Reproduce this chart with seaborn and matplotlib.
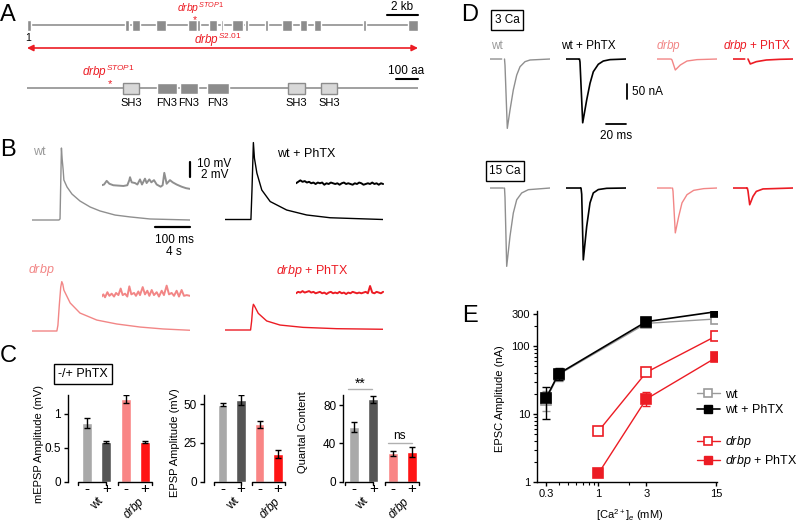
import numpy as np
import pandas as pd
import matplotlib
matplotlib.use("Agg")
import matplotlib.pyplot as plt
from matplotlib.lines import Line2D
from matplotlib.ticker import FixedLocator, NullFormatter, LogLocator
import seaborn as sns

W, H = 800, 528

# colours
GREY = "#8f8f8f"
PINK = "#f28686"
RED = "#ec1c24"
GENE_GREY = "#8c8c8c"

# ---- panel A: gene / protein structure
exons_kb = [(0.0, 0.25), (6.32, 6.61), (6.77, 7.26), (8.32, 8.97), (10.39, 10.97),
            (11.0, 11.16), (11.74, 12.26), (12.52, 12.65), (13.23, 13.94), (14.06, 14.26),
            (15.35, 15.55), (16.45, 17.10), (17.61, 18.06), (18.52, 18.97), (21.68, 21.87),
            (24.58, 25.23)]
gene_len_kb = 25.23
stop1_kb = 10.8
protein_len_aa = 1777
sh3_aa = [(436, 509), (1186, 1264), (1336, 1409)]
fn3_aa = [(591, 682), (695, 777), (818, 918)]
stop1_aa = 377

# ---- panel B: EPSP traces (ms, mV)
wt_epsp_ms = [0, 77, 80, 84, 86, 89, 91, 100, 114, 137, 166, 194, 237, 280, 337, 451]
wt_epsp_mv = [0, 0, 0.7, 49.3, 42, 34.2, 27.4, 22.6, 17.8, 13.0, 8.9, 6.2, 3.4, 2.1, 0.7, 0]
drbp_epsp_ms = [0, 71, 74, 78, 82, 85, 88, 91, 109, 137, 185, 242, 309, 374, 451]
drbp_epsp_mv = [0, 0, 4, 18, 30, 33.8, 32, 28, 19.2, 12.3, 7.5, 4.8, 2.7, 1.4, 0.5]
wtph_epsp_ms = [0, 74, 77, 81, 84, 91, 105, 129, 176, 233, 300, 451]
wtph_epsp_mv = [0, 0, 20, 52.7, 42, 31.8, 20.2, 12.3, 6.5, 3.1, 1.2, 0]
drph_epsp_ms = [0, 73, 76, 79, 81, 84, 95, 119, 157, 223, 319, 451]
drph_epsp_mv = [0, 0, 6, 15, 17.6, 16.5, 11.4, 6.2, 3.4, 1.8, 0.9, 0.5]

# ---- panel B: miniature traces (s, mV)
wt_mini_s = [0, 0.27, 0.57, 0.88, 1.33, 1.9, 2.48, 2.93, 3.16, 3.24, 3.43, 3.81, 4.08, 4.38,
             4.61, 4.95, 5.14, 5.45, 5.68, 5.98, 6.29, 6.74, 6.97, 7.16, 7.43, 7.81, 8.12,
             8.57, 9.14, 9.64, 10.1]
wt_mini_mv = [0.2, 0.3, 0.8, 0.4, 0.2, 0.15, 0.1, 0.2, 0.9, 1.3, 0.6, 0.5, 0.3, 1.0, 0.3,
              1.1, 0.5, 1.0, 0.6, 0.9, 0.3, 0.0, 0.2, 1.9, 0.4, 0.9, 0.6, 0.3, 0.0, -0.2, -0.3]
drbp_mini_s = [0, 0.19, 0.38, 0.65, 0.88, 1.14, 1.41, 1.64, 1.91, 2.17, 2.4, 2.67, 2.93, 3.16,
               3.39, 3.7, 3.92, 4.19, 4.38, 4.69, 4.95, 5.22, 5.45, 5.72, 5.98, 6.29, 6.55,
               6.86, 7.12, 7.43, 7.7, 8.0, 8.27, 8.57, 8.84, 9.14, 9.41, 9.72, 10.1]
drbp_mini_mv = [0.1, 0.4, 0.0, 0.7, 0.2, 0.5, 0.1, 0.6, 0.3, 1.2, 0.3, 0.5, 0.1, 1.5, 0.4,
                0.6, 0.2, 0.8, 0.3, 1.4, 0.4, 0.9, 0.2, 1.0, 0.3, 0.7, 0.1, 0.9, 0.3, 1.6,
                0.4, 0.6, 0.2, 0.9, 0.1, 1.0, 0.2, 0.3, 0.2]
phtx_mini_s = [0, 0.25, 0.5, 0.75, 1.0, 1.25, 1.5, 1.75, 2.0, 2.25, 2.5, 2.75, 3.0, 3.25,
               3.5, 3.75, 4.0, 4.25, 4.5, 4.75, 5.0, 5.25, 5.5, 5.75, 6.0, 6.25, 6.5, 6.75,
               7.0, 7.25, 7.5, 7.75, 8.0, 8.25, 8.5, 8.75, 9.0, 9.25, 9.5, 9.75, 10.0]
wtph_mini_mv = [0.1, 0.3, 0.5, 0.3, 0.4, 0.2, 0.3, 0.1, 0.2, 0.0, 0.2, 0.1, 0.2, -0.1,
                0.1, 0.0, 0.2, 0.1, 0.0, 0.1, -0.1, 0.1, 0.2, 0.0, 0.1, 0.0, -0.1, 0.1,
                0.0, 0.2, 0.1, -0.1, 0.0, 0.1, 0.0, 0.2, 0.0, 0.1, -0.1, 0.1, 0.0]
drph_mini_mv = [0.0, 0.2, 0.1, 0.3, 0.1, 0.2, 0.3, 0.1, 0.2, 0.0, 0.1, 0.2, 0.0, 0.1,
                -0.1, 0.1, 0.2, 0.0, 0.1, 0.0, 0.2, 0.0, 0.1, -0.1, 0.1, 0.0, 0.2, 0.1,
                0.0, 0.1, 0.0, 0.1, 0.2, 0.0, 1.0, 0.1, 0.0, 0.2, 0.1, 0.0, 0.2]

# ---- panel C: bar data
conds = ["wt -", "wt +", "drbp -", "drbp +"]
bar_colors = ["#a9a9a9", "#555555", "#f98585", "#ff1414"]
mepsp_mv = [0.87, 0.58, 1.22, 0.585]
mepsp_sem = [0.07, 0.015, 0.055, 0.02]
epsp_mv = [49.8, 52.8, 37.1, 17.7]
epsp_sem = [1.0, 3.2, 2.2, 2.7]
quantal = [56.8, 86.0, 29.6, 30.7]
quantal_sem = [5.2, 3.6, 2.8, 5.2]

# ---- panel D: EPSC traces (ms, nA)
d3_wt_ms = [0, 11.7, 11.7, 14.5, 15, 17.3, 20, 23.3, 26.7, 30, 35, 40, 60]
d3_wt_na = [0, 0, np.nan, 0, -20, -224, -165, -100, -52, -25, -8.6, -3.2, 0]
d3_wtph_ms = [0, 12.3, 12.3, 13.5, 14, 16.7, 20.7, 24, 27.3, 32.3, 37.3, 44, 60]
d3_wtph_na = [0, 0, np.nan, 0, -10, -206, -132, -79, -41, -17, -6.5, -2, 0]
d3_drbp_ms = [0, 13, 13, 14, 15, 18.3, 23.3, 30, 40, 60]
d3_drbp_na = [0, 0, np.nan, 0, -3, -35.5, -19.4, -6.5, -2, 0]
d3_drph_ms = [0, 11.7, 11.7, 15, 17.3, 23.3, 33.3, 46.7, 60]
d3_drph_na = [0, 0, np.nan, 0, -16, -8.6, -3.2, -1, 0]
d15_wt_ms = [0, 13.3, 13.3, 14.5, 15, 16.7, 20, 23.3, 26.7, 31.7, 38.3, 60]
d15_wt_na = [0, 0, np.nan, 0, -30, -253, -156, -81, -38, -16, -5.4, 0]
d15_wtph_ms = [0, 14, 14, 15, 15.7, 17.3, 20.7, 24, 27.3, 32.3, 40.7, 60]
d15_wtph_na = [0, 0, np.nan, 0, -20, -232, -124, -48, -16, -5, -1, 0]
d15_drbp_ms = [0, 14.3, 14.3, 15.5, 16, 18.3, 21.7, 25, 30, 36.7, 46.7, 60]
d15_drbp_na = [0, 0, np.nan, 0, -10, -145, -92, -48, -21.5, -7.5, -2, 0]
d15_drph_ms = [0, 13.3, 13.3, 14.3, 15, 16.7, 20, 23.3, 30, 60]
d15_drph_na = [0, 0, np.nan, 0, -10, -54, -27, -11, -3, 0]

# ---- panel E: Ca dependence
ca_wt = [0.3, 0.4, 3, 15]
epsc_wt = [16, 38, 215, 250]
epsc_wt_lo = [11, 31, 205, 240]
epsc_wt_hi = [22, 46, 225, 262]
ca_wtph = [0.3, 0.4, 3, 15]
epsc_wtph = [17, 39, 228, 320]
epsc_wtph_lo = [8.5, 31.5, 215, 305]
epsc_wtph_hi = [25, 47, 240, 335]
ca_drbp = [1, 3, 15]
epsc_drbp = [5.6, 41, 141]
epsc_drbp_lo = [5.3, 37, 135]
epsc_drbp_hi = [5.9, 46, 147]
ca_drph = [1, 3, 15]
epsc_drph = [1.34, 16.6, 68]
epsc_drph_lo = [1.28, 13, 65]
epsc_drph_hi = [1.4, 21, 71]

sns.set_theme(style="ticks")
plt.rcParams.update({
    "font.family": ["Liberation Sans", "DejaVu Sans"],
    "mathtext.fontset": "custom",
    "mathtext.rm": "Liberation Sans",
    "mathtext.it": "Liberation Sans:italic",
    "mathtext.bf": "Liberation Sans:bold",
    "text.color": "black",
    "axes.labelcolor": "black",
    "axes.edgecolor": "black",
    "xtick.color": "black",
    "ytick.color": "black",
    "axes.linewidth": 1.0,
    "xtick.major.width": 1.0,
    "ytick.major.width": 1.0,
    "xtick.major.size": 3,
    "ytick.major.size": 3,
    "xtick.labelsize": 8,
    "ytick.labelsize": 8,
    "xtick.major.pad": 2,
    "ytick.major.pad": 2,
})

fig = plt.figure(figsize=(W / 100, H / 100), dpi=100)


def px_axes(x0, y0, x1, y1):
    ax = fig.add_axes([x0 / W, 1 - y1 / H, (x1 - x0) / W, (y1 - y0) / H])
    ax.patch.set_alpha(0)
    return ax


def draw_trace(ax, t, v, color, lw, xlim, ylim):
    ax.plot(t, v, color=color, lw=lw, solid_joinstyle="round")
    ax.set_xlim(*xlim)
    ax.set_ylim(*ylim)
    ax.axis("off")


# ================= A =================
axg = px_axes(27, 15, 418, 35)
axg.set_xlim(0, gene_len_kb)
axg.set_ylim(1, -1)
axg.axis("off")
axg.plot([0, gene_len_kb], [0, 0], color="#a0a0a0", lw=1.4, zorder=1)
axg.barh([0] * len(exons_kb), [e - s for s, e in exons_kb], left=[s for s, e in exons_kb],
         height=1.1, color=GENE_GREY, zorder=2)
axg.plot([gene_len_kb - 2, gene_len_kb], [-1, -1], color="black", lw=1.5, clip_on=False)
axg.text(gene_len_kb - 1, -1.8, "2 kb", ha="center", va="center", fontsize=8.5)
axg.text(stop1_kb, -0.45, "*", color=RED, ha="center", va="center", fontsize=7.5, zorder=3)
axg.text(stop1_kb + 0.4, -0.95, r"$drbp^{STOP1}$", color=RED, ha="center", va="bottom", fontsize=7.5)
axg.text(0.05, 1.3, "1", ha="center", va="center", fontsize=7.5)
axg.annotate("", xy=(gene_len_kb, 2.3), xytext=(0, 2.3), annotation_clip=False,
             arrowprops=dict(arrowstyle="<|-|>", color=RED, lw=1.2, mutation_scale=9,
                             shrinkA=0, shrinkB=0))
axg.text(12.3, 1.5, r"$drbp^{S2.01}$", color=RED, ha="center", va="center", fontsize=8.5)

axp = px_axes(27, 78, 418, 98)
axp.set_xlim(0, protein_len_aa)
axp.set_ylim(1, -1)
axp.axis("off")
axp.plot([0, protein_len_aa], [0, 0], color="#a0a0a0", lw=1.4, zorder=1)
axp.barh([0] * 3, [e - s for s, e in sh3_aa], left=[s for s, e in sh3_aa], height=1.1,
         color="#d8d8d8", edgecolor=GENE_GREY, lw=1, zorder=2)
axp.barh([0] * 3, [e - s for s, e in fn3_aa], left=[s for s, e in fn3_aa], height=1.1,
         color=GENE_GREY, zorder=2)
for s, e in sh3_aa:
    axp.text((s + e) / 2, 1.5, "SH3", ha="center", va="center", fontsize=8)
for s, e in fn3_aa:
    axp.text((s + e) / 2, 1.5, "FN3", ha="center", va="center", fontsize=8)
axp.plot([protein_len_aa - 100, protein_len_aa], [-0.9, -0.9], color="black", lw=1.5, clip_on=False)
axp.text(protein_len_aa - 55, -1.7, "100 aa", ha="center", va="center", fontsize=8.5)
axp.text(stop1_aa, -0.35, "*", color=RED, ha="center", va="center", fontsize=8)
axp.text(stop1_aa - 5, -1.65, r"$drbp^{STOP1}$", color=RED, ha="center", va="center", fontsize=8.5)

# ================= B =================
EPSP_X = (0, 451)
EPSP_Y = (-2.74, 54.8)
MINI_X = (0, 10.1)
MINI_Y = (-1.37, 2.74)

ax = px_axes(32, 140, 190, 224)
draw_trace(ax, wt_epsp_ms, wt_epsp_mv, GREY, 1.0, EPSP_X, EPSP_Y)
ax.plot([451, 451], [29.5, 39.5], color="black", lw=1.6, clip_on=False)
ax.plot([351, 451], [-4.8, -4.8], color="black", lw=1.6, clip_on=False)
ax = px_axes(225, 139.5, 383, 223.5)
draw_trace(ax, wtph_epsp_ms, wtph_epsp_mv, "black", 1.0, EPSP_X, EPSP_Y)
ax = px_axes(32, 251, 190, 335)
draw_trace(ax, drbp_epsp_ms, drbp_epsp_mv, PINK, 1.0, EPSP_X, EPSP_Y)
ax = px_axes(225, 250, 383, 334)
draw_trace(ax, drph_epsp_ms, drph_epsp_mv, RED, 1.0, EPSP_X, EPSP_Y)

ax = px_axes(101.7, 166.7, 190, 196.7)
draw_trace(ax, wt_mini_s, wt_mini_mv, GREY, 1.4, MINI_X, MINI_Y)
ax = px_axes(101.7, 277.3, 190, 307.3)
draw_trace(ax, drbp_mini_s, drbp_mini_mv, PINK, 1.4, MINI_X, MINI_Y)
ax = px_axes(296, 164, 384, 194)
draw_trace(ax, phtx_mini_s, wtph_mini_mv, "black", 1.4, MINI_X, MINI_Y)
ax = px_axes(296, 273.3, 384, 303.3)
draw_trace(ax, phtx_mini_s, drph_mini_mv, RED, 1.4, MINI_X, MINI_Y)

# ================= C =================
palette = dict(zip(conds, bar_colors))


def bar_panel(box, xlim, vals, sems, ylim, yticks, yticklabels, ylabel, label_xy):
    ax = px_axes(*box)
    df = pd.DataFrame({"cond": conds, "val": vals})
    sns.barplot(data=df, x="cond", y="val", hue="cond", palette=palette, width=0.52,
                legend=False, errorbar=None, saturation=1, ax=ax)
    ax.errorbar(range(4), vals, yerr=sems, fmt="none", ecolor="black", elinewidth=1,
                capsize=2.5, capthick=1)
    ax.set_xlim(*xlim)
    ax.set_ylim(*ylim)
    ax.set_yticks(yticks)
    ax.set_yticklabels(yticklabels, fontsize=8.5)
    ax.set_xticks(range(4))
    ax.set_xticklabels(["-", "+", "-", "+"], fontsize=11)
    ax.tick_params(axis="x", length=0, pad=0)
    ax.set_xlabel("")
    ax.set_ylabel(ylabel, fontsize=8)
    ax.yaxis.set_label_coords(*label_xy)
    sns.despine(ax=ax, bottom=True)
    tick = ylim[1] * 3 / (box[3] - box[1])
    for a, b in [(-0.45, 1.0), (1.6, 3.35)]:
        ax.plot([a, a, b, b], [-tick, 0, 0, -tick], color="black", lw=1, clip_on=False)
    return ax


bar_panel((68, 395, 152, 481.7), (-0.98, 3.37), mepsp_mv, mepsp_sem, (0, 1.28),
          [0, 0.5, 1], ["0", "0.5", "1"], "mEPSP Amplitude (mV)", (-0.28, 0.435))
bar_panel((204, 395, 285, 481.7), (-1.01, 3.37), epsp_mv, epsp_sem, (0, 56),
          [0, 25, 50], ["0", "25", "50"], "EPSP Amplitude (mV)", (-0.30, 0.446))
axq = bar_panel((343.3, 395, 418.3, 481.7), (-0.55, 3.32), quantal, quantal_sem, (0, 90.5),
                [0, 40, 80], ["0", "40", "80"], "Quantal Content", (-0.47, 0.573))
axq.plot([-0.3, 0.95], [96.4, 96.4], color="#b0b0b0", lw=1, clip_on=False)
axq.text(0.3, 102, "**", ha="center", va="center", fontsize=10)
axq.plot([1.75, 3.0], [40.7, 40.7], color="#b0b0b0", lw=1, clip_on=False)
axq.text(2.35, 48, "ns", ha="center", va="center", fontsize=8.5)

# ================= D =================
D_X = (0, 60)
D_Y = (-261.6, 29.1)
ax = px_axes(490, 50, 550, 140)
draw_trace(ax, d3_wt_ms, d3_wt_na, GREY, 1.0, D_X, D_Y)
ax = px_axes(566, 50, 626, 140)
draw_trace(ax, d3_wtph_ms, d3_wtph_na, "black", 1.2, D_X, D_Y)
ax.plot([61, 61], [-80, -130], color="black", lw=1.3, clip_on=False)
ax.plot([40, 60], [-210, -210], color="black", lw=1.3, clip_on=False)
ax = px_axes(657, 50, 717, 140)
draw_trace(ax, d3_drbp_ms, d3_drbp_na, PINK, 1.0, D_X, D_Y)
ax = px_axes(733, 50, 793, 140)
draw_trace(ax, d3_drph_ms, d3_drph_na, RED, 1.2, D_X, D_Y)
ax = px_axes(490, 179, 550, 269)
draw_trace(ax, d15_wt_ms, d15_wt_na, GREY, 1.0, D_X, D_Y)
ax = px_axes(566, 179, 626, 269)
draw_trace(ax, d15_wtph_ms, d15_wtph_na, "black", 1.2, D_X, D_Y)
ax = px_axes(657, 179, 717, 269)
draw_trace(ax, d15_drbp_ms, d15_drbp_na, PINK, 1.0, D_X, D_Y)
ax = px_axes(733, 179, 793, 269)
draw_trace(ax, d15_drph_ms, d15_drph_na, RED, 1.2, D_X, D_Y)

# ================= E =================
axE = px_axes(537, 311, 717, 482)
axE.set_xscale("log")
axE.set_yscale("log")
series = [
    (ca_wt, epsc_wt, epsc_wt_lo, epsc_wt_hi, "#9a9a9a", "white", 1.0),
    (ca_wtph, epsc_wtph, epsc_wtph_lo, epsc_wtph_hi, "black", "black", 1.2),
    (ca_drbp, epsc_drbp, epsc_drbp_lo, epsc_drbp_hi, RED, "white", 1.0),
    (ca_drph, epsc_drph, epsc_drph_lo, epsc_drph_hi, RED, RED, 1.0),
]
for x, y, lo, hi, c, fc, lw in series:
    yerr = [np.array(y) - np.array(lo), np.array(hi) - np.array(y)]
    axE.errorbar(x, y, yerr=yerr, fmt="none", ecolor=c, elinewidth=1, capsize=3, capthick=1)
    sns.lineplot(x=x, y=y, ax=axE, color=c, lw=lw, marker="s", markersize=6.5,
                 markerfacecolor=fc, markeredgecolor=c, markeredgewidth=1.2)
axE.set_xlim(0.244, 15.2)
axE.set_ylim(1, 327)
axE.set_xticks([0.3, 1, 3, 15])
axE.set_xticklabels(["0.3", "1", "3", "15"])
axE.xaxis.set_minor_locator(FixedLocator([0.4, 0.5, 0.6, 0.7, 0.8, 0.9, 2]))
axE.xaxis.set_minor_formatter(NullFormatter())
axE.set_yticks([1, 10, 100, 300])
axE.set_yticklabels(["1", "10", "100", "300"])
axE.yaxis.set_minor_locator(LogLocator(base=10, subs=[2, 3, 4, 5, 6, 7, 8, 9]))
axE.yaxis.set_minor_formatter(NullFormatter())
axE.tick_params(which="minor", length=2, width=0.8)
sns.despine(ax=axE)
axE.set_ylabel("EPSC Amplitude (nA)", fontsize=8)
axE.yaxis.set_label_coords(-0.18, 0.49)
axE.set_xlabel(r"[Ca$^{2+}$]$_e$ (mM)", fontsize=8)
axE.xaxis.set_label_coords(0.517, -0.15)

h_wt = Line2D([], [], color="#9a9a9a", lw=1, marker="s", ms=6, mfc="white", mec="#9a9a9a", mew=1.2)
h_wtph = Line2D([], [], color="black", lw=1.2, marker="s", ms=6, mfc="black", mec="black")
h_dr = Line2D([], [], color=RED, lw=1, marker="s", ms=6, mfc="white", mec=RED, mew=1.2)
h_drph = Line2D([], [], color=RED, lw=1, marker="s", ms=6, mfc=RED, mec=RED)
leg_kw = dict(loc="upper left", frameon=False, fontsize=9, handlelength=1.8,
              handletextpad=0.4, labelspacing=0.25, borderaxespad=0, borderpad=0)
leg1 = axE.legend([h_wt, h_wtph], ["wt", "wt + PhTX"], bbox_to_anchor=(0.889, 0.545), **leg_kw)
axE.add_artist(leg1)
axE.legend([h_dr, h_drph], [r"$drbp$", r"$drbp$ + PhTX"], bbox_to_anchor=(0.889, 0.28), **leg_kw)

# ================= overlay text =================
ov = fig.add_axes([0, 0, 1, 1])
ov.set_xlim(0, W)
ov.set_ylim(H, 0)
ov.axis("off")
ov.set_zorder(10)
ov.patch.set_alpha(0)

for letter, x, y in [("A", 8, 15), ("B", 8, 150), ("C", 8, 356), ("D", 470, 15), ("E", 470, 316)]:
    ov.text(x, y, letter, fontsize=17, ha="center", va="center")

# B labels
ov.text(39, 152, "wt", color="#9a9a9a", fontsize=9, ha="center", va="center")
ov.text(306, 154, "wt + PhTX", fontsize=9, ha="center", va="center")
ov.text(41, 270, r"$drbp$", color=PINK, fontsize=9, ha="center", va="center")
ov.text(312, 271, r"$drbp$ + PhTX", color=RED, fontsize=9, ha="center", va="center")
ov.text(214, 164, "10 mV", fontsize=8.5, ha="center", va="center")
ov.text(215, 175, "2 mV", fontsize=8.5, ha="center", va="center")
ov.text(174, 240, "100 ms", fontsize=8.5, ha="center", va="center")
ov.text(174, 252, "4 s", fontsize=8.5, ha="center", va="center")

# C labels
ov.text(83, 374, "-/+ PhTX", fontsize=9, ha="center", va="center",
        bbox=dict(boxstyle="square,pad=0.35", fc="white", ec="black", lw=1))
for xw, xd in [(97, 134), (233, 270), (362, 399)]:
    ov.text(xw, 504, "wt", fontsize=8.5, rotation=45, ha="center", va="center")
    ov.text(xd, 508, r"$drbp$", fontsize=8.5, rotation=45, ha="center", va="center")

# D labels
ov.text(507, 20, "3 Ca", fontsize=8.5, ha="center", va="center",
        bbox=dict(boxstyle="square,pad=0.3", fc="white", ec="black", lw=1))
ov.text(505, 171, "15 Ca", fontsize=8.5, ha="center", va="center",
        bbox=dict(boxstyle="square,pad=0.3", fc="white", ec="black", lw=1))
ov.text(497, 46, "wt", color="#9a9a9a", fontsize=8.5, ha="center", va="center")
ov.text(588, 46, "wt + PhTX", fontsize=8.5, ha="center", va="center")
ov.text(669, 46, r"$drbp$", color=PINK, fontsize=8.5, ha="center", va="center")
ov.text(757, 46, r"$drbp$ + PhTX", color=RED, fontsize=8.5, ha="center", va="center")
ov.text(648, 92, "50 nA", fontsize=8.5, ha="center", va="center")
ov.text(616, 136, "20 ms", fontsize=8.5, ha="center", va="center")

fig.savefig("out.png", dpi=100)
